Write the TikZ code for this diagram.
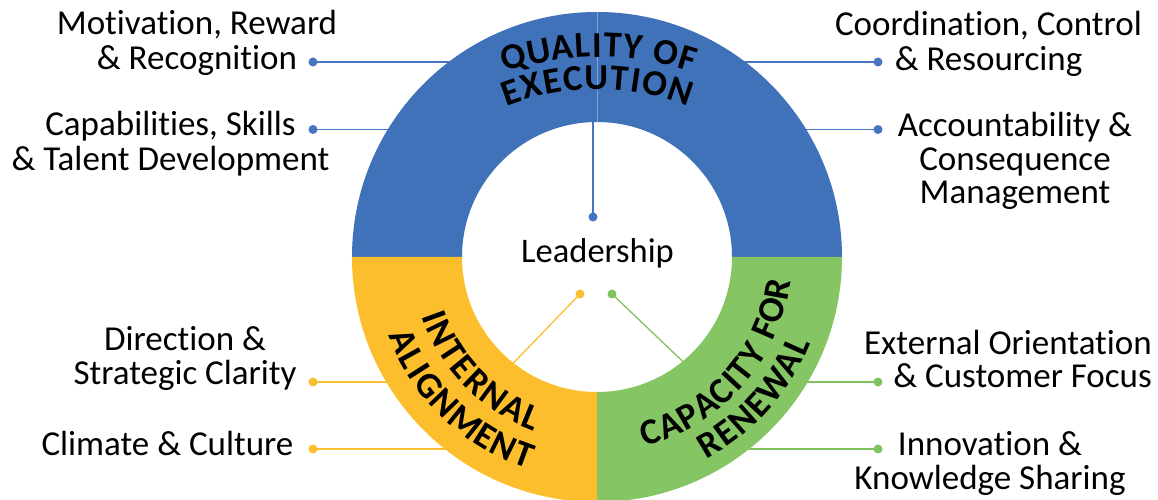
\documentclass[tikz,border=0pt]{standalone}
\usepackage{fontspec}
\setmainfont{Carlito}[Ligatures=NoCommon]
\newfontfamily\ringfont{Carlito}[Ligatures=NoCommon]

\definecolor{qblue}{HTML}{3F72B9}
\definecolor{ayellow}{HTML}{FDBE2D}
\definecolor{rgreen}{HTML}{85C563}
\definecolor{lblue}{HTML}{4674C2}
\definecolor{lyellow}{HTML}{FBBE30}
\definecolor{lgreen}{HTML}{80C35E}

\begin{document}
\begin{tikzpicture}[x=1pt,y=1pt,
  lbl/.style={font=\fontsize{35}{33.5}\selectfont, inner sep=0pt, anchor=base},
  leaddot/.style={circle, fill=#1, inner sep=0pt, minimum size=9pt},
  conn/.style={draw=#1, line width=1.3pt},
  ringchar/.style={font=\ringfont\bfseries\fontsize{36.5}{36.5}\selectfont,
    inner sep=0pt, anchor=base}
]
\useasboundingbox (-597,-243) rectangle (561,257);

% end dots of the leader lines
\node[leaddot=lblue]   (d1) at (-284,195) {};
\node[leaddot=lblue]   (d2) at (-284,127.5) {};
\node[leaddot=lyellow] (d3) at (-284,-125) {};
\node[leaddot=lyellow] (d4) at (-284,-192) {};
\node[leaddot=lblue]   (d5) at (281,195) {};
\node[leaddot=lblue]   (d6) at (281,127.5) {};
\node[leaddot=lgreen]  (d7) at (281,-125) {};
\node[leaddot=lgreen]  (d8) at (281,-192) {};
\node[leaddot=lblue]   (dc) at (-4,40) {};
\node[leaddot=lyellow] (dy) at (-17,-37) {};
\node[leaddot=lgreen]  (dg) at (15,-37) {};

% points inside the ring band where the leaders end
\coordinate (e1) at (-140,195);
\coordinate (e2) at (-200,127.5);
\coordinate (e3) at (-200,-125);
\coordinate (e4) at (-140,-192);
\coordinate (e5) at (140,195);
\coordinate (e6) at (200,127.5);
\coordinate (e7) at (200,-125);
\coordinate (e8) at (140,-192);
\coordinate (ec) at (-4,140);
\coordinate (ey) at (-100,-123);
\coordinate (eg) at (100,-118);

% leader lines (the ring covers their inner ends)
\draw[conn=lblue]   (d1.center) -- (e1);
\draw[conn=lblue]   (d2.center) -- (e2);
\draw[conn=lyellow] (d3.center) -- (e3);
\draw[conn=lyellow] (d4.center) -- (e4);
\draw[conn=lblue]   (d5.center) -- (e5);
\draw[conn=lblue]   (d6.center) -- (e6);
\draw[conn=lgreen]  (d7.center) -- (e7);
\draw[conn=lgreen]  (d8.center) -- (e8);
\draw[conn=lblue]   (dc.center) -- (ec);
\draw[conn=lyellow] (dy.center) -- (ey);
\draw[conn=lgreen]  (dg.center) -- (eg);

% the ring
\fill[qblue] (0:245) arc[start angle=0,end angle=180,radius=245]
  -- (180:135) arc[start angle=180,end angle=0,radius=135] -- cycle;
\fill[ayellow] (180:245) arc[start angle=180,end angle=270,radius=245]
  -- (270:135) arc[start angle=270,end angle=180,radius=135] -- cycle;
\fill[rgreen] (270:245) arc[start angle=270,end angle=360,radius=245]
  -- (0:135) arc[start angle=360,end angle=270,radius=135] -- cycle;
\draw[qblue!65!white, line width=0.8pt] (90:135) -- (90:245);

% arched titles: one letter per node, placed by angle on its baseline circle
\begin{scope}[shift={(2,-100)}]
  \foreach \a/\c [count=\i] in {105.88/Q,101.21/U,96.77/A,93.05/L,90.39/I,
      87.51/T,83.74/Y,77.49/O,73.44/F}
    \node[ringchar, rotate=\a-90] (qt\i) at (\a:300) {\c};
\end{scope}
\begin{scope}[shift={(0,-80)}]
  \foreach \a/\c [count=\i] in {109.42/E,104.72/X,100.02/E,95.40/C,90.16/U,
      85.04/T,81.40/I,77.06/O,71.23/N}
    \node[ringchar, rotate=\a-90] (qb\i) at (\a:248) {\c};
\end{scope}
\foreach \a/\c [count=\i] in {200.1/I,206.07/N,213.21/T,219.47/E,226.08/R,
    233.56/N,241.27/A,247.77/L}
  \node[ringchar, rotate=\a+90] (ya\i) at (\a:185) {\c};
\foreach \a/\c [count=\i] in {203.5/A,208.81/L,212.69/I,217.44/G,223.86/N,
    231.31/M,238.03/E,243.84/N,249.69/T}
  \node[ringchar, rotate=\a+90] (yb\i) at (\a:223) {\c};
\foreach \a/\c [count=\i] in {287/C,293.38/A,299.78/P,306.18/A,312.57/C,
    317.31/I,321.89/T,327.84/Y,336.69/F,343.07/O,349.96/R}
  \node[ringchar, rotate=\a+90] (ga\i) at (\a:195) {\c};
\foreach \a/\c [count=\i] in {301/R,306.19/E,311.78/N,317.36/E,323.90/W,
    330.92/A,336.02/L}
  \node[ringchar, rotate=\a+90] (gb\i) at (\a:230) {\c};

% labels
\node[lbl, font=\fontsize{34.5}{33}\selectfont] (lead) at (0.5,-6) {Leadership};
\node[lbl] (mot) at (-400,222)
  {\begin{tabular}[t]{@{}c@{}}Motivation, Reward\\ \& Recognition\end{tabular}};
\node[lbl] (cap) at (-426.5,121)
  {\begin{tabular}[t]{@{}c@{}}Capabilities, Skills\\ \& Talent Development\end{tabular}};
\node[lbl] (crd) at (391.5,221)
  {\begin{tabular}[t]{@{}c@{}}Coordination, Control\\ \& Resourcing\end{tabular}};
\node[lbl] (acc) at (418,120)
  {\begin{tabular}[t]{@{}c@{}}Accountability \&\\ Consequence\\ Management\end{tabular}};
\node[lbl] (dir) at (-412,-93)
  {\begin{tabular}[t]{@{}c@{}}Direction \&\\ Strategic Clarity\end{tabular}};
\node[lbl] (clim) at (-429.5,-198.7) {Climate \& Culture};
\node[lbl, anchor=base east] (ext) at (555,-97)
  {\begin{tabular}[t]{@{}r@{}}External Orientation\\ \& Customer Focus\end{tabular}};
\node[lbl] (inno) at (393,-198)
  {\begin{tabular}[t]{@{}c@{}}Innovation \&\\ Knowledge Sharing\end{tabular}};
\end{tikzpicture}
\end{document}
